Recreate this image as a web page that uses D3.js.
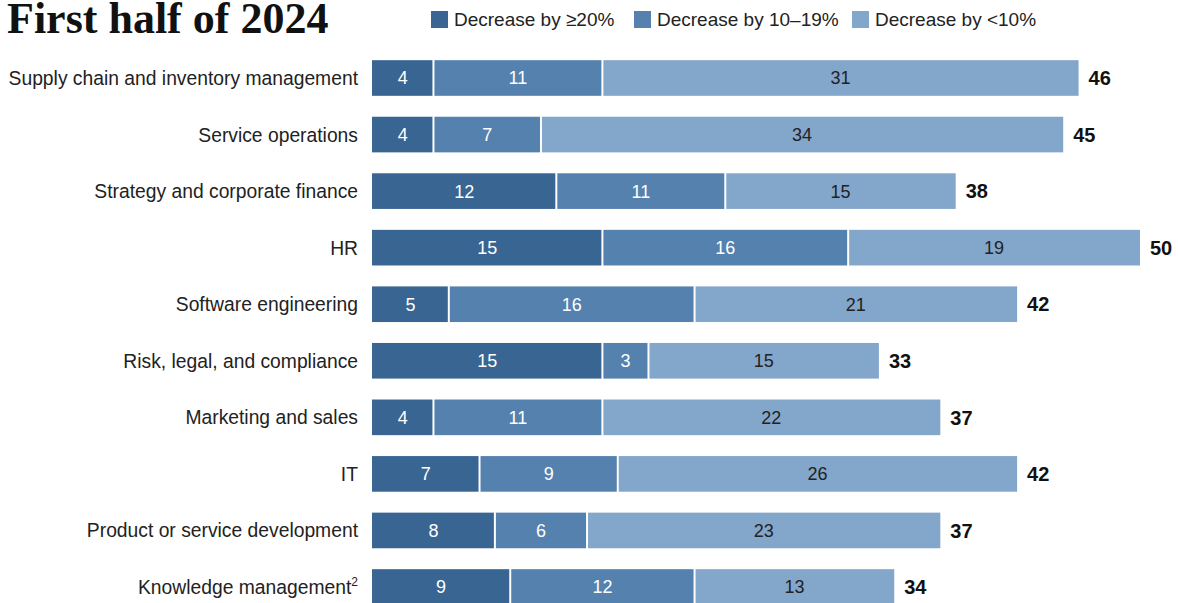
<!DOCTYPE html>
<html><head><meta charset="utf-8">
<script src="https://cdn.jsdelivr.net/npm/d3@7"></script>
<style>body{margin:0;background:#fff}</style>
</head><body>
<svg id="c" width="1178" height="603"></svg>
<script>
const categories = ["Supply chain and inventory management","Service operations","Strategy and corporate finance","HR","Software engineering","Risk, legal, and compliance","Marketing and sales","IT","Product or service development","Knowledge management"];
const superscripts = ["","","","","","","","","","2"];
const dec20 = [4,4,12,15,5,15,4,7,8,9];
const dec10 = [11,7,11,16,16,3,11,9,6,12];
const decLt10 = [31,34,15,19,21,15,22,26,23,13];
const totals = [46,45,38,50,42,33,37,42,37,34];
const seriesNames = ["Decrease by \u226520%","Decrease by 10\u201319%","Decrease by <10%"];
const title = "First half of 2024";

const colors = ["#386592","#5581ae","#83a6cb"];
const textColors = ["#fff","#fff","#222"];
const svg = d3.select("#c");
const font = "'Liberation Sans', Arial, sans-serif";

svg.append("text").attr("x",7).attr("y",33).text(title)
  .attr("font-family","'Liberation Serif','DejaVu Serif',serif").attr("font-weight","bold")
  .attr("font-size",44).attr("fill","#111");

// legend
const legX = [431,634,852];
seriesNames.forEach((n,i)=>{
  svg.append("rect").attr("x",legX[i]).attr("y",11).attr("width",17).attr("height",17).attr("fill",colors[i]);
  svg.append("text").attr("x",legX[i]+23).attr("y",26).text(n).attr("font-family",font).attr("font-size",19).attr("fill","#222");
});

const x = d3.scaleLinear().domain([0,50]).range([372,1140]);
const y = d3.scaleBand().domain(categories).range([50,615]).paddingInner(0.37).paddingOuter(0.18);

const data = categories.map((c,i)=>({cat:c, vals:[dec20[i],dec10[i],decLt10[i]], total:totals[i], sup:superscripts[i]}));

data.forEach(d=>{
  let acc=0;
  const g = svg.append("g");
  d.vals.forEach((v,j)=>{
    const x0 = x(acc), x1 = x(acc+v);
    g.append("rect").attr("x",x0+(j>0?1:0)).attr("y",y(d.cat)).attr("width",x1-x0-(j>0?1:0)-(j<2?1:0)).attr("height",y.bandwidth()).attr("fill",colors[j]);
    g.append("text").attr("x",(x0+x1)/2).attr("y",y(d.cat)+y.bandwidth()/2).attr("dy","0.36em")
      .attr("text-anchor","middle").attr("font-family",font).attr("font-size",18).attr("fill",textColors[j]).text(v);
    acc+=v;
  });
  svg.append("text").attr("x",x(acc)+10).attr("y",y(d.cat)+y.bandwidth()/2).attr("dy","0.36em")
    .attr("font-family",font).attr("font-weight","bold").attr("font-size",20).attr("fill","#111").text(d.total);
  const t = svg.append("text").attr("x",358).attr("y",y(d.cat)+y.bandwidth()/2).attr("dy","0.36em")
    .attr("text-anchor","end").attr("font-family",font).attr("font-size",19.3).attr("fill","#222");
  t.append("tspan").text(d.cat);
  if(d.sup) t.append("tspan").attr("font-size",12).attr("dy","-0.65em").text(d.sup);
});
</script>
</body></html>
